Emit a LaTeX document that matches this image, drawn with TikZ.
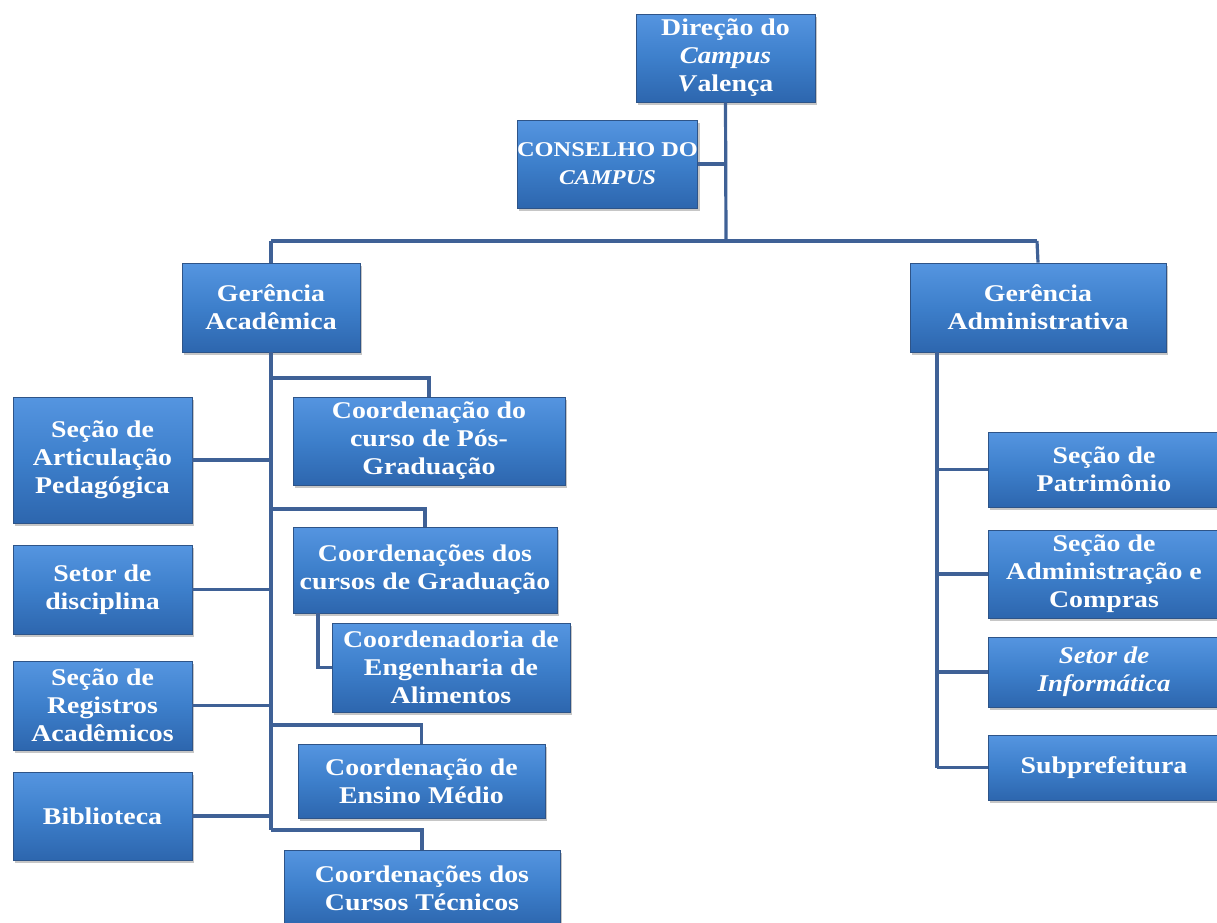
\documentclass[tikz,border=0pt]{standalone}
\usepackage{fontspec}
\setmainfont{Liberation Serif}[BoldFeatures={FakeStretch=1.16},BoldItalicFeatures={FakeStretch=1.12}]
\usetikzlibrary{shadows,calc}
\definecolor{conncol}{HTML}{3F6196}
\definecolor{boxtop}{HTML}{5595E0}
\definecolor{boxmid}{HTML}{3D7FCB}
\definecolor{boxbot}{HTML}{2D66AE}
\definecolor{boxedge}{HTML}{2E5488}
\tikzset{
  box/.style={draw=boxedge, line width=0.8pt, top color=boxtop, bottom color=boxbot, middle color=boxmid,
    drop shadow={opacity=0.45, shadow xshift=2pt, shadow yshift=-3pt},
    text=white, font=\fontsize{24}{28}\selectfont\bfseries, align=center, inner sep=0pt},
  conn/.style={draw=conncol, line width=3.2pt}
}
\newcommand{\bx}[7][]{\node[box, minimum width=#5pt, minimum height=#6pt, #1] (#2) at (#3,#4) {#7};}
\begin{document}
\begin{tikzpicture}[x=1pt,y=-1pt]
\useasboundingbox (0,0) rectangle (1217,922);
\coordinate (j1) at (726,241);
\coordinate (jl) at (271,241);
\coordinate (jr) at (1037,241);
\coordinate (gab) at (271,830);
\coordinate (gx) at (937,352);
% nodes
\bx{dir}{725.5}{58}{179}{88}{Direção do\\\textit{Campus}\\\textit{V}alença}
\bx[font=\fontsize{21}{28}\selectfont\bfseries]{cons}{607.5}{164}{179}{88}{CONSELHO DO\\\textit{CAMPUS}}
\bx{ga}{271}{307.5}{178}{89}{Gerência\\Acadêmica}
\bx{gadm}{1038}{307.5}{256}{89}{Gerência\\Administrativa}
\bx{sap}{102.5}{460}{179}{126}{Seção de\\Articulação\\Pedagógica}
\bx{sd}{102.5}{589.5}{179}{89}{Setor de\\disciplina}
\bx{sra}{102.5}{705.5}{179}{89}{Seção de\\Registros\\Acadêmicos}
\bx{bib}{102.5}{816}{179}{88}{Biblioteca}
\bx{pos}{429}{441}{272}{88}{Coordenação do\\curso de Pós-\\Graduação}
\bx{grad}{425}{570}{264}{86}{Coordenações dos\\cursos de Graduação}
\bx{eng}{451}{667.5}{238}{89}{Coordenadoria de\\Engenharia de\\Alimentos}
\bx{med}{421.5}{781}{247}{74}{Coordenação de\\Ensino Médio}
\bx{tec}{422}{888}{276}{76}{Coordenações dos\\Cursos Técnicos}
\bx{pat}{1104}{469.5}{232}{75}{Seção de\\Patrimônio}
\bx{adm}{1104}{574}{232}{88}{Seção de\\Administração e\\Compras}
\bx{inf}{1104}{672}{232}{70}{\textit{Setor de}\\\textit{Informática}}
\bx{sub}{1104}{767.5}{232}{65}{Subprefeitura}
% connectors
\draw[conn] (dir.south) -- (j1);
\draw[conn] (cons.east) -- (cons.east -| j1);
\draw[conn] (jl) -- (jr);
\draw[conn] (jl) -- (ga.north);
\draw[conn] (jr) -- (gadm.north);
\draw[conn] (ga.south) -- (gab);
\draw[conn] (sap.east) -- (sap.east -| ga.south);
\draw[conn] (sd.east) -- (sd.east -| ga.south);
\draw[conn] (sra.east) -- (sra.east -| ga.south);
\draw[conn] (bib.east) -- (bib.east -| ga.south);
\draw[conn] (ga.south |- 0,378) -| (pos.north);
\draw[conn] (ga.south |- 0,509) -| (grad.north);
\draw[conn] (ga.south |- 0,725) -| (med.north);
\draw[conn] (gab) -| (tec.north);
\draw[conn] ([xshift=-107pt]grad.south) |- (eng.west);
\draw[conn] (gx) -- (gx |- sub.west);
\draw[conn] (pat.west) -- (pat.west -| gx);
\draw[conn] (adm.west) -- (adm.west -| gx);
\draw[conn] (inf.west) -- (inf.west -| gx);
\draw[conn] (sub.west) -- (sub.west -| gx);
\end{tikzpicture}
\end{document}
